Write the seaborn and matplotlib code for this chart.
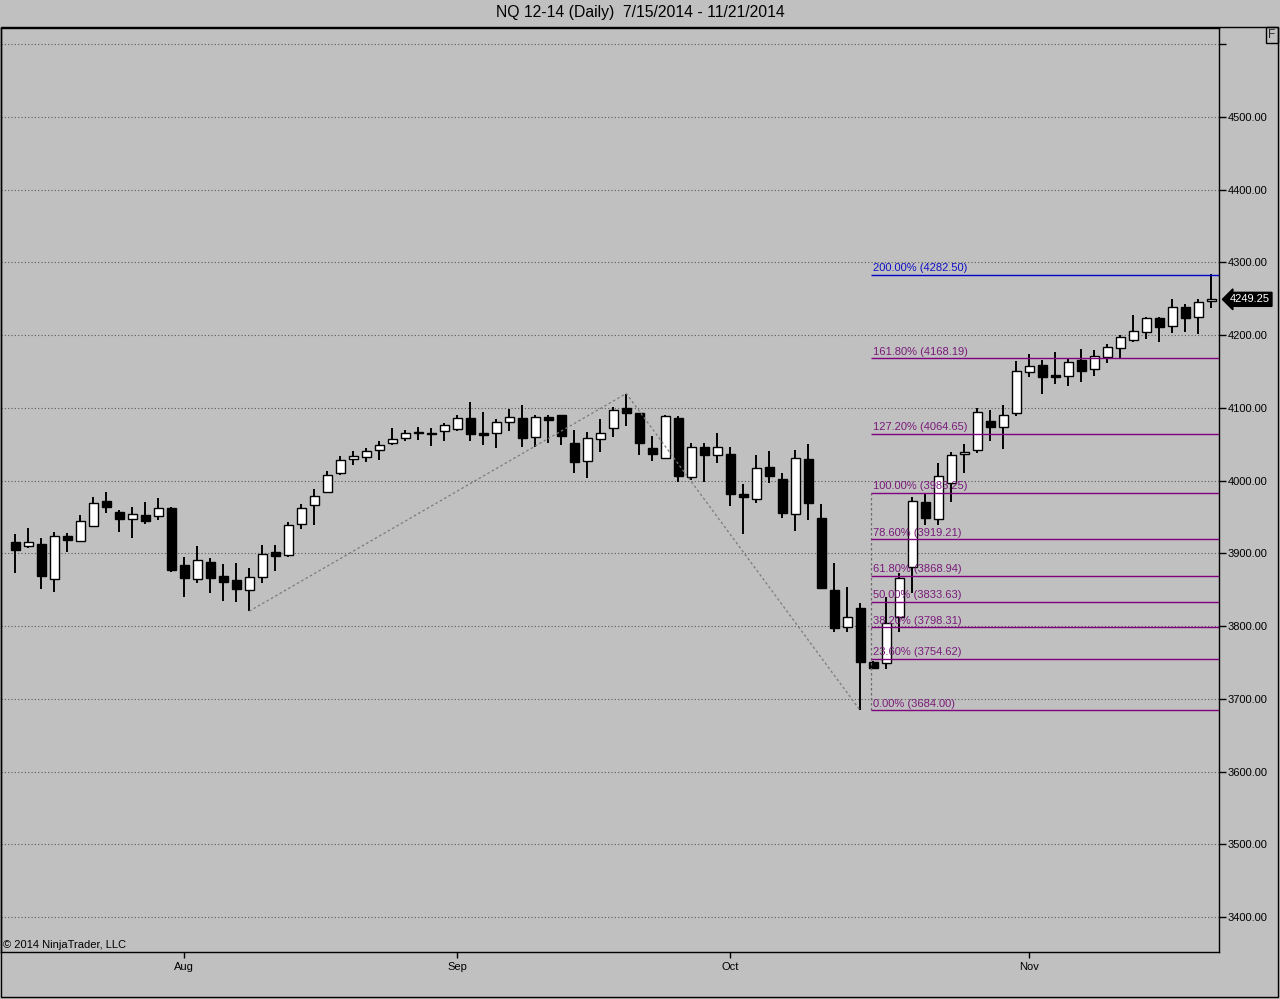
import numpy as np
import pandas as pd
import matplotlib
matplotlib.use("Agg")
import matplotlib.pyplot as plt
import seaborn as sns
from matplotlib.patches import Rectangle

# NQ 12-14 daily OHLC, 7/15/2014 - 11/21/2014
opens = [3915.6, 3909.7, 3912.9, 3864.3, 3923.9, 3917.4, 3938.0, 3972.0, 3956.9, 3946.9,
         3952.8, 3951.0, 3962.4, 3883.6, 3864.8, 3888.1, 3868.9, 3863.4, 3849.2, 3867.0,
         3901.9, 3897.8, 3940.0, 3966.1, 3984.0, 4010.1, 4029.3, 4032.9, 4041.7, 4051.3,
         4058.2, 4066.0, 4066.0, 4068.6, 4071.4, 4085.7, 4065.5, 4065.0, 4080.2, 4085.7,
         4059.6, 4087.1, 4090.3, 4051.7, 4026.6, 4056.8, 4072.0, 4099.9, 4092.6, 4044.9,
         4031.5, 4086.1, 4005.4, 4046.3, 4034.8, 4036.6, 3981.2, 3974.3, 4018.3, 4001.9,
         3953.7, 4029.8, 3948.6, 3849.6, 3798.3, 3824.5, 3751.2, 3748.8, 3813.0, 3880.8,
         3970.2, 3946.9, 3996.3, 4036.2, 4042.1, 4082.4, 4073.3, 4092.6, 4149.8, 4159.0,
         4145.3, 4144.3, 4165.9, 4153.1, 4170.5, 4182.8, 4193.4, 4204.0, 4223.2, 4213.0,
         4238.3, 4224.6, 4246.6]
highs = [3926.6, 3934.5, 3921.6, 3929.4, 3928.4, 3953.2, 3977.5, 3984.4, 3959.6, 3964.2,
         3970.6, 3976.5, 3964.2, 3895.0, 3910.1, 3893.6, 3885.4, 3887.2, 3879.9, 3911.5,
         3911.5, 3943.6, 3967.9, 3988.5, 4013.3, 4033.9, 4041.2, 4045.3, 4054.1, 4072.8,
         4069.6, 4074.2, 4072.0, 4079.7, 4090.3, 4108.1, 4094.4, 4084.7, 4098.5, 4104.0,
         4090.3, 4090.3, 4090.3, 4069.6, 4066.5, 4085.2, 4101.7, 4119.75, 4092.6, 4061.4,
         4090.3, 4088.9, 4052.2, 4052.2, 4065.9, 4046.7, 3995.4, 4035.3, 4040.8, 4010.1,
         4042.1, 4050.0, 3967.9, 3887.2, 3854.2, 3831.4, 3752.0, 3840.4, 3872.5, 3977.1,
         3982.6, 4024.7, 4039.8, 4050.4, 4100.3, 4097.1, 4103.6, 4164.5, 4173.7, 4165.9,
         4176.5, 4168.2, 4181.0, 4179.6, 4187.9, 4200.3, 4227.8, 4225.5, 4224.6, 4249.3,
         4242.9, 4249.8, 4284.0]
lows = [3873.4, 3907.0, 3851.0, 3847.3, 3902.3, 3915.6, 3936.7, 3956.0, 3929.8, 3921.6,
        3940.8, 3946.3, 3874.8, 3840.0, 3859.6, 3845.0, 3834.9, 3833.5, 3820.5, 3858.8,
        3876.2, 3895.4, 3933.0, 3939.0, 3982.6, 4008.2, 4022.0, 4025.2, 4028.4, 4049.4,
        4055.0, 4055.9, 4048.0, 4054.5, 4068.6, 4054.5, 4049.4, 4045.3, 4068.6, 4046.6,
        4046.6, 4052.2, 4049.0, 4011.0, 4004.0, 4039.8, 4060.4, 4075.1, 4035.3, 4027.0,
        4031.5, 3998.6, 4000.9, 3998.6, 4024.7, 3965.5, 3927.0, 3969.7, 3996.3, 3948.2,
        3931.2, 3946.3, 3852.0, 3792.3, 3792.3, 3684.0, 3741.0, 3741.0, 3792.3, 3845.0,
        3939.0, 3939.0, 3970.2, 4010.1, 4037.6, 4054.5, 4043.0, 4088.9, 4142.0, 4119.1,
        4132.9, 4130.6, 4135.2, 4144.3, 4162.0, 4166.8, 4191.0, 4194.7, 4191.0, 4203.4,
        4204.8, 4201.6, 4237.8]
closes = [3905.0, 3915.6, 3869.3, 3923.4, 3918.4, 3944.0, 3969.3, 3964.2, 3947.7, 3954.1,
          3945.0, 3962.4, 3877.6, 3866.6, 3890.5, 3865.7, 3861.0, 3850.6, 3867.0, 3899.1,
          3896.8, 3939.0, 3962.0, 3978.5, 4007.4, 4028.0, 4033.5, 4040.3, 4049.0, 4057.3,
          4065.0, 4066.8, 4063.7, 4076.5, 4085.7, 4064.6, 4062.4, 4080.2, 4087.1, 4059.0,
          4087.1, 4083.8, 4061.8, 4026.0, 4058.2, 4065.5, 4096.7, 4093.4, 4052.2, 4037.0,
          4088.9, 4006.8, 4045.8, 4035.7, 4046.3, 3982.1, 3977.9, 4017.0, 4006.8, 3956.0,
          4030.7, 3969.7, 3852.8, 3797.8, 3812.1, 3751.2, 3742.0, 3803.8, 3866.1, 3971.6,
          3949.0, 4006.4, 4035.3, 4039.0, 4094.4, 4073.3, 4089.8, 4151.2, 4157.6, 4142.9,
          4143.0, 4163.2, 4151.2, 4171.0, 4183.4, 4197.1, 4205.8, 4223.2, 4211.7, 4238.3,
          4224.1, 4245.2, 4249.25]

dates = pd.bdate_range("2014-07-15", "2014-11-21", freq="C", holidays=["2014-09-01"])

# swing points of the zigzag (bar index, price)
zig_idx = [18, 47, 65]
zig_price = [3820.5, 4119.75, 3684.0]

# fibonacci extension levels
fib_pct = [0.0, 23.6, 38.2, 50.0, 61.8, 78.6, 100.0, 127.2, 161.8, 200.0]
fib_price = [3684.00, 3754.62, 3798.31, 3833.63, 3868.94, 3919.21, 3983.25, 4064.65, 4168.19, 4282.50]
fib_start = 65.8

price_ticks = list(range(3400, 4700, 100))

df = pd.DataFrame(dict(date=dates, o=opens, h=highs, l=lows, c=closes))
df["i"] = np.arange(len(df))
df["up"] = df.c >= df.o

sns.set_style("ticks")
plt.rcParams["font.family"] = ["Liberation Sans", "DejaVu Sans"]
bg = "#c0c0c0"

fig = plt.figure(figsize=(12.8, 9.99), dpi=100, facecolor=bg)
ax = fig.add_axes([1 / 1280, 47 / 999, 1218 / 1280, (952 - 27.5) / 999])
ax.set_facecolor(bg)

ax.grid(axis="y", color="#5a5a5a", linestyle=(0, (1, 2)), lw=0.8, zorder=0)
ax.grid(axis="x", visible=False)

# candles
ax.vlines(df.i, df.l, df.h, color="black", lw=1.4, zorder=3)
body_bottom = np.minimum(df.o, df.c)
body_height = np.abs(df.c - df.o)
ax.bar(df.i, body_height, bottom=body_bottom, width=0.68,
       color=np.where(df.up, "white", "black"), edgecolor="black", lw=1.0, zorder=4)

# zigzag
sns.lineplot(x=zig_idx, y=zig_price, ax=ax, color="#7a7a7a", lw=0.9,
             linestyle=(0, (2, 2)), zorder=5)

# fib extension
x_right = 92.6
ax.vlines(fib_start, fib_price[0], fib_price[6], color="#6a6a6a", lw=0.9,
          linestyle=(0, (2, 2)), zorder=5)
for pct, lvl in zip(fib_pct, fib_price):
    col = "#0000c8" if pct == 200.0 else "#800080"
    tcol = "#1010c8" if pct == 200.0 else "#7a1a7a"
    ax.hlines(lvl, fib_start, x_right, color=col, lw=1.0, zorder=6)
    ax.annotate(f"{pct:.2f}% ({lvl:.2f})", xy=(fib_start, lvl), xytext=(1.5, 1.2),
                textcoords="offset points", fontsize=8, color=tcol, ha="left", va="bottom",
                zorder=7)

# axes
ax.set_xlim(-1.1, x_right)
ax.set_ylim(3351.9, 4623.0)
ax.yaxis.tick_right()
ax.set_yticks(price_ticks)
ax.set_yticklabels([f"{p:.2f}" if p < 4600 else "" for p in price_ticks])
month_idx = df.groupby(df.date.dt.month).i.min()
month_idx = month_idx[month_idx > 0]
ax.set_xticks(month_idx.values)
ax.set_xticklabels([dates[k].strftime("%b") for k in month_idx.values])
ax.tick_params(axis="y", direction="out", length=5, width=1, labelsize=8, pad=1.5, colors="black")
ax.tick_params(axis="x", direction="out", length=4, width=1, labelsize=8, pad=3, colors="black")
for s in ax.spines.values():
    s.set_color("black")
    s.set_linewidth(1.0)

# last price marker
ax.text(1.009, closes[-1], f"{closes[-1]:.2f}", transform=ax.get_yaxis_transform(),
        color="white", fontsize=8, ha="left", va="center", zorder=10, clip_on=False,
        bbox=dict(boxstyle="larrow,pad=0.18", fc="black", ec="black"))

ax.text(0.002, 0.002, "\u00a9 2014 NinjaTrader, LLC", transform=ax.transAxes,
        fontsize=8, ha="left", va="bottom", color="black")

fig.text(0.5, 1 - 13 / 999, "NQ 12-14 (Daily)  7/15/2014 - 11/21/2014",
         ha="center", va="center", fontsize=11.3, color="black")
fig.text(1272 / 1280, 1 - 35 / 999, "F", ha="center", va="center", fontsize=8.5,
         bbox=dict(boxstyle="square,pad=0.2", fc="none", ec="black", lw=1.0))

fig.add_artist(Rectangle((1 / 1280, 2 / 999), 1277 / 1280, (997 - 27) / 999,
                         transform=fig.transFigure, fill=False, ec="black", lw=1.0))

fig.savefig("out.png", dpi=100, facecolor=bg)
